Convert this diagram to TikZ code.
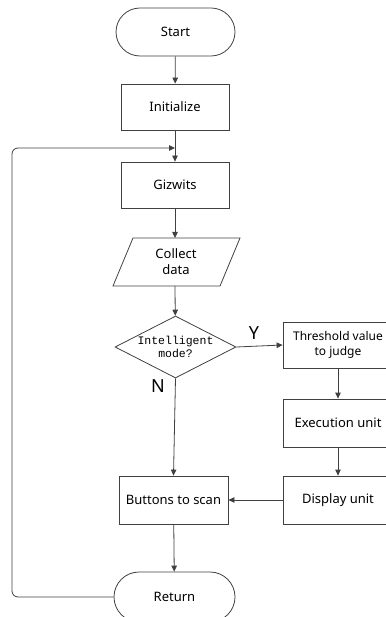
\documentclass[tikz,border=0pt]{standalone}
\usepackage{fontspec}
\setmainfont{Noto Sans}
\newfontfamily\monof{Liberation Mono}
\usetikzlibrary{shapes.misc,shapes.geometric,arrows.meta}
\begin{document}
\begin{tikzpicture}[x=1pt,y=-1pt,
  line/.style={draw=black!75,line width=0.8pt},
  arr/.style={line,-{Triangle[length=6pt,width=5.5pt]}},
  box/.style={line,rectangle,inner sep=0pt,align=center,font=\fontsize{13}{16}\selectfont},
  term/.style={line,rounded rectangle,inner sep=0pt,font=\fontsize{13}{16}\selectfont},
  lbl/.style={font=\fontsize{18}{20}\selectfont,inner sep=0pt}]
\useasboundingbox (0,0) rectangle (385,617);
\node[term,minimum width=119pt,minimum height=48pt] (start) at (175.5,32) {Start};
\node[box,minimum width=108pt,minimum height=46pt] (init) at (175,107) {Initialize};
\node[box,minimum width=108pt,minimum height=46pt] (giz) at (175,185) {Gizwits};
\node[box,draw=none,align=center] (col) at (176,262) {Collect\\data};
\draw[line] (113,286) -- (133,238) -- (240,238) -- (220,286) -- cycle;
\node[line,diamond,minimum width=121pt,minimum height=62pt,inner sep=0pt,aspect=1.95,align=center,
  font=\monof\fontsize{11.5}{13}\selectfont] (dia) at (175.5,347) {Intelligent\\mode?};
\node[box,minimum width=110pt,minimum height=46pt,font=\fontsize{12}{15.5}\selectfont] (thr) at (338,345) {Threshold value\\to judge};
\node[box,minimum width=110pt,minimum height=48pt] (exe) at (338,423) {Execution unit};
\node[box,minimum width=110pt,minimum height=48pt] (disp) at (338,500) {Display unit};
\node[box,minimum width=109pt,minimum height=48pt] (btn) at (173.5,500) {Buttons to scan};
\node[term,minimum width=121pt,minimum height=50pt] (ret) at (174.5,597) {Return};
\coordinate (colt) at (175,238);
\coordinate (colb) at (175,286);
\coordinate (loopin) at (175,148);
\coordinate (loopc) at (12,597);
\coordinate (loopu) at (12,148);
\node[lbl] (y) at (254,333) {Y};
\node[lbl] (n) at (158,386) {N};
\draw[arr] (start) -- (init);
\draw[arr] (init) -- (giz);
\draw[arr] (giz) -- (colt);
\draw[arr] (colb) -- (dia);
\draw[arr] (dia.east) -- (thr.west);
\draw[arr] (dia.south) -- (btn.north);
\draw[arr] (thr) -- (exe);
\draw[arr] (exe) -- (disp);
\draw[arr] (disp.west) -- (btn.east);
\draw[arr] (btn) -- (ret);
\draw[arr,rounded corners=6pt] (ret.west) -- (loopc) -- (loopu) -- (loopin);
\end{tikzpicture}
\end{document}
